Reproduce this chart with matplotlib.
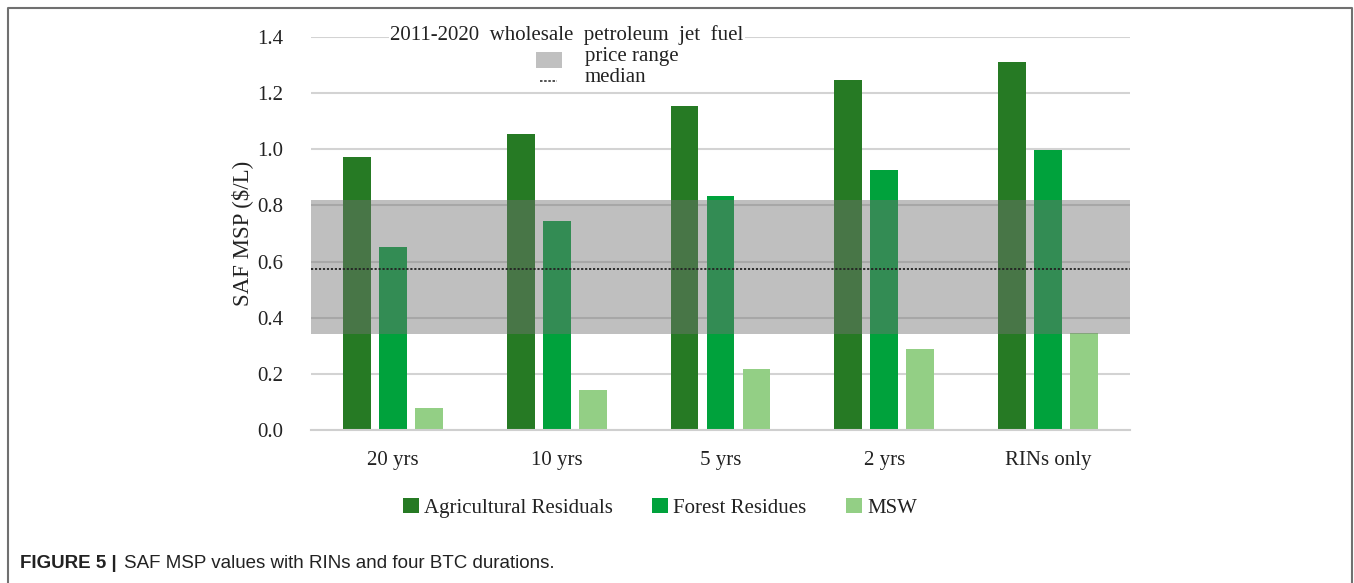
import numpy as np
import matplotlib
matplotlib.use("Agg")
from matplotlib import pyplot as plt
from matplotlib.patches import Rectangle

categories = ["20 yrs", "10 yrs", "5 yrs", "2 yrs", "RINs only"]
agricultural = [0.972, 1.055, 1.154, 1.247, 1.311]
forest = [0.652, 0.745, 0.834, 0.926, 0.998]
msw = [0.078, 0.142, 0.217, 0.289, 0.346]
series_names = ["Agricultural Residuals", "Forest Residues", "MSW"]
price_low = 0.342
price_high = 0.820
price_median = 0.574

serif = ["Liberation Serif", "DejaVu Serif"]
plt.rcParams['font.family'] = serif

fig = plt.figure(figsize=(13.54, 5.83), dpi=100)
ax = fig.add_axes([311 / 1354, 1 - 430 / 583, (1130 - 311) / 1354, 393 / 583])

colors = ["#267a24", "#00a23c", "#93cf85"]
x = np.arange(len(categories))
width = 0.17
offsets = [-0.22, 0.0, 0.22]
for vals, off, col, name in zip([agricultural, forest, msw], offsets, colors, series_names):
    ax.bar(x + off, vals, width, color=col, label=name, zorder=2)

# price range band, drawn over the bars
ax.axhspan(price_low, price_high, color="#737373", alpha=0.45, lw=0, zorder=3)
ax.axhline(price_median, color="#222222", lw=1.3, ls=(0, (1.2, 1.0)), zorder=4)

ax.set_xlim(-0.5, len(categories) - 0.5)
ax.set_ylim(0, 1.4)
ax.set_yticks(np.arange(0, 1.41, 0.2))
ax.set_yticklabels([f"{v:.1f}" for v in np.arange(0, 1.41, 0.2)])
ax.set_xticks(x)
ax.set_xticklabels(categories)
ax.tick_params(axis="both", length=0, labelsize=15, colors="#222222")
ax.tick_params(axis="y", pad=20)
ax.tick_params(axis="x", pad=15)
ax.yaxis.grid(True, color="#d3d3d3", lw=1.5, zorder=0)
ax.set_axisbelow(True)
for s in ["top", "right", "left"]:
    ax.spines[s].set_visible(False)
ax.spines["bottom"].set_color("#cfcfcf")
ax.spines["bottom"].set_linewidth(1.5)
ax.set_ylabel("SAF MSP ($/L)", fontsize=16.5, color="#222222", labelpad=3)

# price legend block at the top
ax.text(390, 583 - 35, "2011-2020  wholesale  petroleum  jet  fuel", transform=None,
        fontsize=15, color="#222222", va="center", ha="left",
        bbox=dict(facecolor="white", edgecolor="none", pad=1), zorder=5)
fig.patches.append(Rectangle((536 / 1354, 1 - 68 / 583), 26 / 1354, 16 / 583,
                             transform=fig.transFigure, color="#c0c0c0", lw=0))
fig.text(585 / 1354, 1 - 57 / 583, "price range", fontsize=15, color="#222222", va="center")
fig.lines.append(plt.Line2D([540 / 1354, 557 / 1354], [1 - 81 / 583, 1 - 81 / 583],
                            transform=fig.transFigure, color="#333333", lw=1.2, ls=(0, (1.5, 1))))
fig.text(585 / 1354, 1 - 78 / 583, "median", fontsize=15, color="#222222", va="center")

leg = fig.legend(loc="center", bbox_to_anchor=(660 / 1354, 1 - 508 / 583), ncol=3,
                 frameon=False, fontsize=15, handlelength=0.75, handleheight=0.75,
                 handletextpad=0.25, columnspacing=1.9)
for t in leg.get_texts():
    t.set_color("#222222")

# frame around the figure
fig.lines.append(plt.Line2D([8 / 1354, 8 / 1354, 1352 / 1354, 1352 / 1354],
                            [0, 1 - 8 / 583, 1 - 8 / 583, 0],
                            transform=fig.transFigure, color="#707070", lw=1.5))

caption_font = ["Liberation Sans Narrow", "Liberation Sans", "DejaVu Sans"]
fig.text(20 / 1354, 1 - 563 / 583, "FIGURE 5 |", fontsize=13.5, fontweight="bold",
         family=caption_font, va="center", color="#222222")
fig.text(124 / 1354, 1 - 563 / 583, "SAF MSP values with RINs and four BTC durations.",
         fontsize=13.5, family=caption_font, va="center", color="#222222")

fig.savefig("out.png", dpi=100)
